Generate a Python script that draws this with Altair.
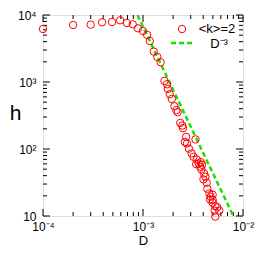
import altair as alt
import pandas as pd

# data
D_vals = [1.0e-4, 2.0e-4, 3.0e-4, 3.9e-4, 4.9e-4, 5.9e-4, 6.9e-4, 7.9e-4, 8.9e-4, 1.0e-3,
          1.10e-3, 1.17e-3, 1.28e-3, 1.39e-3, 1.50e-3, 1.64e-3, 1.74e-3, 1.77e-3, 1.85e-3, 1.94e-3,
          2.06e-3, 2.16e-3, 2.22e-3, 2.36e-3, 2.47e-3, 2.51e-3, 2.70e-3, 2.62e-3, 2.75e-3, 3.35e-3,
          2.88e-3, 3.06e-3, 3.20e-3, 3.45e-3, 3.40e-3, 3.61e-3, 3.78e-3, 3.73e-3, 3.90e-3, 3.84e-3,
          4.08e-3, 4.21e-3, 4.02e-3, 4.34e-3, 4.40e-3, 4.61e-3, 4.75e-3, 4.97e-3, 4.68e-3, 4.97e-3,
          5.28e-3, 5.53e-3, 5.79e-3, 5.20e-3, 5.28e-3, 4.98e-3]
h_vals = [6180, 7100, 7180, 7780, 7870, 8340, 7600, 7260, 6330, 5780,
          5040, 4100, 2845, 2366, 1972, 1038, 927, 789, 657, 560,
          435, 380, 354, 245, 224, 205, 152, 127, 121, 139,
          101, 86, 76.5, 69.8, 59.5, 60.8, 63.7, 54.3, 58.1, 49.5,
          43.2, 38.5, 35.2, 31.4, 25.5, 21.7, 19.4, 20.8, 17.7, 15.8,
          14.1, 13.5, 12.0, 12.0, 9.8, 17.3]

fit_D = [8.8e-4, 8.0e-3]
fit_h = [1.0e4, 10.0]

x_major = [1e-4, 1e-3, 1e-2]
x_minor = [2e-4, 3e-4, 4e-4, 5e-4, 6e-4, 7e-4, 8e-4, 9e-4,
           2e-3, 3e-3, 4e-3, 5e-3, 6e-3, 7e-3, 8e-3, 9e-3]
y_major = [10, 100, 1000, 10000]
y_minor = [20, 30, 40, 50, 60, 70, 80, 90,
           200, 300, 400, 500, 600, 700, 800, 900,
           2000, 3000, 4000, 5000, 6000, 7000, 8000, 9000]

legend_labels = ["<k>=2", "D\u207b\u00b3"]

W, H = 200, 201
FONT = "Liberation Sans"
RED = "#ff0000"
GREEN = "#22dd00"

xs = alt.Scale(type="log", domain=[1e-4, 1e-2], nice=False)
ys = alt.Scale(type="log", domain=[10, 1e4], nice=False)

pts = pd.DataFrame({"D": D_vals, "h": h_vals})
fit = pd.DataFrame({"D": fit_D, "h": fit_h})

x_label_expr = ("round(log(datum.value)/LN10) == -4 ? '10\u207b\u2074' : "
                "round(log(datum.value)/LN10) == -3 ? '10\u207b\u00b3' : '10\u207b\u00b2'")
y_label_expr = ("round(log(datum.value)/LN10) == 4 ? '10\u2074' : "
                "round(log(datum.value)/LN10) == 3 ? '10\u00b3' : "
                "round(log(datum.value)/LN10) == 2 ? '10\u00b2' : '10'")

x_axis = alt.Axis(values=x_major, labelExpr=x_label_expr, ticks=False, domain=False, grid=False,
                  labelFont=FONT, labelFontSize=12, labelColor="black", labelPadding=5,
                  labelFlush=False, labelOverlap=False,
                  title="D", titleFont=FONT, titleFontSize=13, titleFontWeight="normal",
                  titleColor="black", titlePadding=2)
y_axis = alt.Axis(values=y_major, labelExpr=y_label_expr, ticks=False, domain=False, grid=False,
                  labelFont=FONT, labelFontSize=12, labelColor="black", labelPadding=7,
                  labelFlush=False, labelOverlap=False,
                  title="h", titleFont=FONT, titleFontSize=21, titleFontWeight="normal",
                  titleColor="black", titleAngle=0, titleX=-28, titleY=98,
                  titleBaseline="middle", titleAlign="center")

points = alt.Chart(pts).mark_point(shape="circle", filled=False, color=RED, size=55,
                                   strokeWidth=1, opacity=1).encode(
    x=alt.X("D:Q", scale=xs, axis=x_axis),
    y=alt.Y("h:Q", scale=ys, axis=y_axis),
)

line = alt.Chart(fit).mark_line(color=GREEN, strokeWidth=2.5, strokeDash=[5, 3], clip=True).encode(
    x=alt.X("D:Q", scale=xs, axis=x_axis),
    y=alt.Y("h:Q", scale=ys, axis=y_axis),
)

def xticks(vals, length):
    df = pd.DataFrame({"v": vals})
    bot = alt.Chart(df).mark_rule(color="black", strokeWidth=1).encode(
        x=alt.X("v:Q", scale=xs, axis=x_axis), y=alt.value(H), y2=alt.value(H - length))
    top = alt.Chart(df).mark_rule(color="black", strokeWidth=1).encode(
        x=alt.X("v:Q", scale=xs, axis=x_axis), y=alt.value(0), y2=alt.value(length))
    return [bot, top]

def yticks(vals, length):
    df = pd.DataFrame({"v": vals})
    left = alt.Chart(df).mark_rule(color="black", strokeWidth=1).encode(
        y=alt.Y("v:Q", scale=ys, axis=y_axis), x=alt.value(0), x2=alt.value(length))
    right = alt.Chart(df).mark_rule(color="black", strokeWidth=1).encode(
        y=alt.Y("v:Q", scale=ys, axis=y_axis), x=alt.value(W), x2=alt.value(W - length))
    return [left, right]

ticks = xticks(x_major, 7) + xticks(x_minor, 4) + yticks(y_major, 7) + yticks(y_minor, 4)

leg = pd.DataFrame({"label": legend_labels})
leg_circle = alt.Chart(leg.iloc[[0]]).mark_point(shape="circle", filled=False, color=RED,
                                                 size=55, strokeWidth=1, opacity=1).encode(
    x=alt.value(139), y=alt.value(14))
leg_line = alt.Chart(leg.iloc[[1]]).mark_rule(color=GREEN, strokeWidth=2.5, strokeDash=[5, 3]).encode(
    x=alt.value(128), x2=alt.value(149), y=alt.value(28))
leg_text1 = alt.Chart(leg.iloc[[0]]).mark_text(font=FONT, fontSize=13, color="black",
                                               align="center", baseline="middle").encode(
    text="label:N", x=alt.value(174), y=alt.value(14))
leg_text2 = alt.Chart(leg.iloc[[1]]).mark_text(font=FONT, fontSize=13, color="black",
                                               align="center", baseline="middle").encode(
    text="label:N", x=alt.value(176), y=alt.value(29))

chart = alt.layer(*ticks, line, points, leg_circle, leg_line, leg_text1, leg_text2).properties(
    width=W, height=H,
    autosize=alt.AutoSizeParams(type="none"),
    padding={"left": 35, "top": 7, "right": 13, "bottom": 31},
).configure_view(stroke="black", strokeWidth=1.5).configure(background="white")

chart.save("out.html", embed_options={"renderer": "svg", "actions": False})
